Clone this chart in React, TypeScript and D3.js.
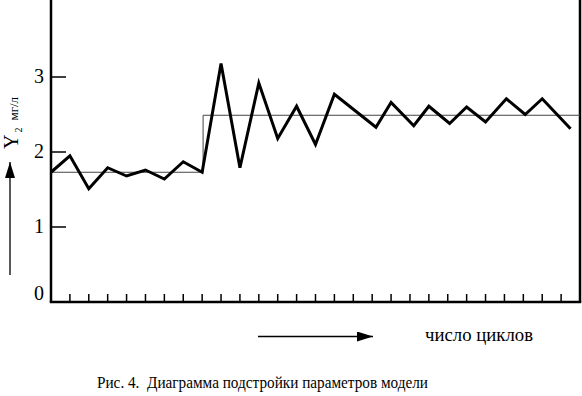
import React from 'react';
import * as d3 from 'd3';

// число циклов / значения Y2 (мг/л)
const cycles = [0, 1, 2, 3, 4, 5, 6, 7, 8, 9, 10, 11, 12, 13, 14, 15, 17.2, 18, 19.2, 20, 21.1, 22, 23, 24.1, 25.1, 26, 27.5];
const y2 = [1.73, 1.95, 1.51, 1.79, 1.68, 1.76, 1.64, 1.87, 1.73, 3.18, 1.79, 2.92, 2.18, 2.61, 2.10, 2.77, 2.33, 2.66, 2.35, 2.61, 2.38, 2.60, 2.40, 2.71, 2.50, 2.71, 2.31];

// ступенчатая линия параметра модели
const refCycles = [0, 8.05, 8.05, 28];
const refValues = [1.73, 1.73, 2.49, 2.49];

const yTicks = [0, 1, 2, 3];
const xTicks = d3.range(1, 28);

const width = 582;
const height = 396;

export default function App() {
  const x = d3.scaleLinear().domain([0, 28]).range([51, 580]);
  const y = d3.scaleLinear().domain([0, 4]).range([302, 2]);

  const line = d3.line<number>()
    .x((d, i) => x(cycles[i]))
    .y(d => y(d));
  const refLine = d3.line<number>()
    .x((d, i) => x(refCycles[i]))
    .y(d => y(d));

  const font = "'Liberation Serif', 'DejaVu Serif', serif";

  return (
    <svg width={width} height={height} style={{ position: 'absolute', left: 0, top: 0, background: '#fff', fontFamily: font }}>
      <defs>
        <marker id="arr2" viewBox="0 0 16 10" refX="16" refY="5" markerWidth="16" markerHeight="10"
          markerUnits="userSpaceOnUse" orient="auto">
          <path d="M0,0 L16,5 L0,10 z" fill="#000" />
        </marker>
      </defs>

      {/* рамка: левая, правая, нижняя */}
      <line x1={x(0)} x2={x(0)} y1={0} y2={y(0)} stroke="#000" strokeWidth={2.5} />
      <line x1={x(28)} x2={x(28)} y1={0} y2={y(0)} stroke="#000" strokeWidth={2.5} />
      <line x1={x(0) - 1.25} x2={x(28) + 1.25} y1={y(0)} y2={y(0)} stroke="#000" strokeWidth={2.5} />

      {/* деления оси Y */}
      {yTicks.map(t => (
        <g key={'y' + t}>
          {t > 0 && <line x1={x(0)} x2={x(0) + 15} y1={y(t)} y2={y(t)} stroke="#000" strokeWidth={1.5} />}
          <text x={44} y={t === 0 ? y(t) - 2 : y(t) + 6} textAnchor="end" fontSize={20}>{t}</text>
        </g>
      ))}

      {/* деления оси X */}
      {xTicks.map(t => (
        <line key={'x' + t} x1={x(t)} x2={x(t)} y1={y(0)} y2={y(0) - 8} stroke="#000" strokeWidth={1.5} />
      ))}

      <path d={refLine(refValues) || ''} fill="none" stroke="#444" strokeWidth={1} />
      <path d={line(y2) || ''} fill="none" stroke="#000" strokeWidth={3} strokeLinejoin="miter" />

      {/* подпись оси Y */}
      <text transform="translate(18,149) rotate(-90)" fontSize={20}>
        Y<tspan fontSize={10} dy={4} dx={2}>2</tspan><tspan fontSize={13} dy={-4} dx={7}>мг/л</tspan>
      </text>
      <line x1={10} x2={10} y1={275} y2={162} stroke="#000" strokeWidth={1.3} markerEnd="url(#arr2)" />

      <line x1={258} x2={373} y1={336.5} y2={336.5} stroke="#000" strokeWidth={1.3} markerEnd="url(#arr2)" />
      <text x={425} y={341} fontSize={18} textLength={108} lengthAdjust="spacingAndGlyphs">число циклов</text>

      <text x={97} y={388} fontSize={17} xmlSpace="preserve" textLength={331} lengthAdjust="spacingAndGlyphs">Рис. 4.  Диаграмма подстройки параметров модели</text>
    </svg>
  );
}
